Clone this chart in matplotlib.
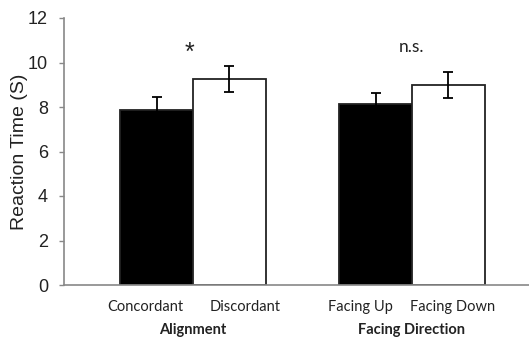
import matplotlib
matplotlib.use("Agg")
import matplotlib.pyplot as plt
import numpy as np

groups = ["Alignment", "Facing Direction"]
conditions = ["Concordant", "Discordant", "Facing Up", "Facing Down"]
means = [7.87, 9.26, 8.12, 8.99]
errors = [0.57, 0.58, 0.52, 0.57]
colors = ["black", "white", "black", "white"]
significance = ["*", "n.s."]
yticks = [0, 2, 4, 6, 8, 10, 12]

fig = plt.figure(figsize=(5.29, 3.37), dpi=100)
ax = fig.add_axes([64/529, 1-285/337, 1-64/529, (285-18)/337])

w = 0.333
group_x = np.arange(len(groups))
xs = []
for g in group_x:
    xs += [g - w/2, g + w/2]
xs = np.array(xs)

ax.bar(xs, means, width=w, color=colors, edgecolor="#222222", linewidth=1.3, zorder=2)
ax.errorbar(xs, means, yerr=errors, fmt="none", ecolor="black", elinewidth=1.3,
            capsize=3.5, capthick=1.3, zorder=3)

ax.set_xlim((64-193)/219, (529-193)/219)
ax.set_ylim(0, 12)
ax.set_yticks(yticks)
ax.set_yticklabels([str(t) for t in yticks], fontsize=13, family="Liberation Sans", color="#222222")
ax.set_xticks([])
ax.tick_params(axis="y", length=3.5, color="#888888", width=1, pad=8)
for s in ["top", "right"]:
    ax.spines[s].set_visible(False)
for s in ["left", "bottom"]:
    ax.spines[s].set_color("#888888")
    ax.spines[s].set_linewidth(1.2)
ax.set_ylabel("Reaction Time (S)", fontsize=14, family="Liberation Sans", color="#222222", labelpad=0)

# category labels
label_offsets = [-0.05, 0.07, -0.07, 0.02]
for x, lab, off in zip(xs, conditions, label_offsets):
    ax.text(x + off, -1.16, lab, ha="center", va="baseline", fontsize=10.5, family="Lato",
            color="#222222", clip_on=False)
for g, lab in zip(group_x, groups):
    ax.text(g, -2.2, lab, ha="center", va="baseline", fontsize=10.5, family="Lato",
            fontweight="bold", color="#222222", clip_on=False)

# significance
ax.text(group_x[0] - 0.015, 10.45, significance[0], ha="center", va="center", fontsize=18,
        family="Liberation Sans", color="#222222")
ax.text(group_x[1], 10.47, significance[1], ha="center", va="baseline", fontsize=12.5,
        family="Lato", color="#222222")

fig.savefig("out.png", dpi=100)
